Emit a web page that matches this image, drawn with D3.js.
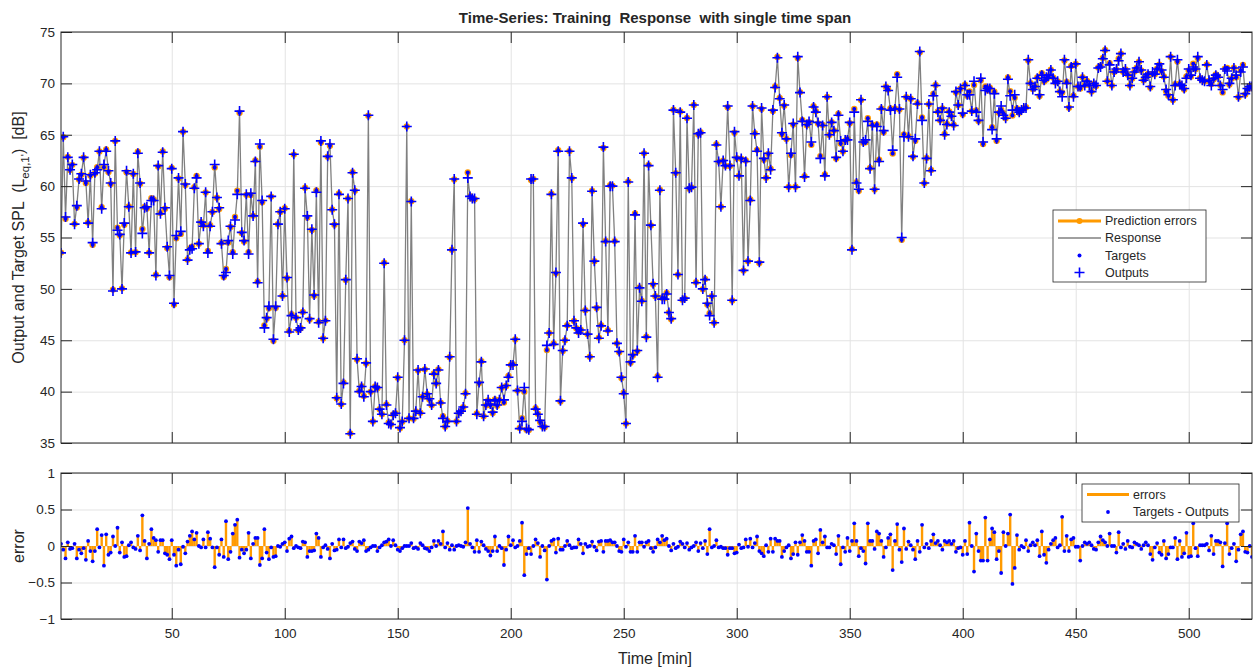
<!DOCTYPE html>
<html><head><meta charset="utf-8">
<script src="https://cdn.jsdelivr.net/npm/d3@7"></script>
<style>
body{margin:0;background:#fff}
text{font-family:"Liberation Sans",Arial,Helvetica,sans-serif;fill:#262626}
</style>
</head><body>
<svg id="c" width="1260" height="668"></svg>
<script>
// ---------- data ----------
const xTicks = [50,100,150,200,250,300,350,400,450,500];
const yTicksTop = [35,40,45,50,55,60,65,70,75];
const yTicksBottom = [-1,-0.5,0,0.5,1];
const xDomain = [1,528];

// network outputs (dB), minute 1..528
const outputs = [
53.5,64.8,57.0,62.8,61.6,62.1,56.3,58.1,60.7,61.2,
62.8,60.5,56.4,61.1,54.5,61.3,61.6,63.4,57.8,62.1,
63.4,61.5,60.3,49.8,64.4,55.7,55.3,50.0,56.4,61.5,
58.0,53.5,61.2,53.6,63.2,60.3,55.4,57.9,58.0,53.5,
58.6,58.6,51.3,62.0,57.3,63.3,57.9,54.1,51.3,61.7,
48.6,55.2,60.8,55.6,65.3,60.2,52.8,53.8,53.9,59.8,
60.8,54.4,56.5,56.1,59.4,53.5,56.1,57.5,62.1,58.9,
57.9,54.4,51.3,51.6,54.7,56.1,53.4,56.7,59.2,67.3,
55.5,54.7,59.2,53.4,59.3,57.1,62.4,50.6,64.1,58.6,
46.2,47.2,48.3,59.0,45.1,48.3,56.3,57.5,49.3,57.8,
51.1,45.8,47.4,63.1,47.2,46.0,
46.2,47.7,59.8,57.1,47.1,55.8,49.4,59.4,46.7,64.4,45.2,46.9,62.9,64.1,57.7,56.3,39.4,59.2,38.8,40.8,50.9,58.8,35.9,61.3,59.6,43.2,
40.0,40.5,39.5,42.8,66.9,40.0,37.1,40.5,40.4,38.3,
37.8,52.5,38.7,36.9,36.8,37.7,37.9,41.4,36.5,37.1,
45.0,65.8,37.4,58.5,37.4,38.1,42.1,37.9,39.5,42.2,
39.8,39.3,38.7,41.7,40.8,42.1,38.9,37.4,36.6,37.1,
43.4,53.8,60.7,37.1,37.9,38.1,38.5,39.8,60.8,59.0,
58.8,58.8,37.8,40.9,42.9,37.6,38.7,39.2,38.8,38.0,
39.1,38.7,39.2,40.4,39.2,40.6,41.4,42.6,
42.6,45.1,40.1,36.4,37.1,40.4,36.4,36.3,60.7,60.7,
38.3,37.8,37.2,36.6,36.6,44.5,45.7,59.2,44.6,51.6,
63.4,39.1,44.0,45.0,46.4,63.4,60.8,46.9,46.2,45.7,
46.0,56.4,47.9,45.6,43.4,59.5,52.7,48.2,45.2,46.4,
63.8,54.6,45.9,60.0,60.0,54.6,44.7,43.9,41.4,39.8,
36.9,60.4,42.9,43.6,57.2,44.0,50.1,48.8,63.2,45.3,
62.0,56.2,50.5,49.3,41.4,59.6,
49.0,49.0,49.5,47.7,47.1,67.4,61.3,51.4,67.2,48.9,
49.1,66.6,59.8,59.9,67.9,50.6,65.1,65.2,50.0,50.9,
48.6,47.4,49.3,46.7,64.0,62.4,58.0,62.5,62.0,67.8,
62.0,48.9,65.3,62.8,61.0,62.7,51.8,62.4,52.7,58.6,
67.8,65.1,63.4,52.6,67.6,62.7,60.8,63.2,61.6,67.4,
69.6,72.5,68.5,65.2,67.9,64.6,59.9,63.2,66.1,59.9,
72.6,69.1,66.3,60.9,66.0,66.3,64.3,
67.7,67.2,66.2,62.7,65.9,61.0,68.7,65.0,66.2,65.4,
62.8,66.9,64.4,63.4,64.5,64.5,66.2,53.8,67.2,60.3,
59.7,68.4,64.3,64.5,66.3,61.7,65.9,59.7,65.8,62.4,
67.5,65.4,69.7,69.3,67.4,63.5,67.5,70.6,67.5,55.0,
64.8,68.7,64.8,68.5,62.9,64.6,68.0,73.1,66.4,60.3,
62.7,68.0,61.5,68.8,69.8,67.2,66.4,67.6,65.0,66.0,
67.2,66.8,65.9,69.2,67.9,69.5,
67.1,69.8,68.9,68.9,67.3,70.2,67.2,66.4,70.5,64.3,
69.3,69.5,69.5,65.5,69.0,64.6,67.2,67.8,66.9,66.6,
70.4,68.8,67.4,68.9,67.4,67.2,67.4,67.6,67.6,72.3,
70.0,69.4,69.7,70.5,68.9,70.8,70.3,70.6,70.8,71.3,
70.5,70.0,70.2,69.2,68.7,72.3,70.0,67.7,71.6,68.7,
71.9,69.7,69.7,70.6,69.8,70.2,69.8,69.2,70.0,69.8,
71.5,71.6,72.4,73.2,70.2,71.8,
69.8,71.1,71.4,72.2,72.9,71.1,71.4,70.8,69.8,70.5,
71.1,71.5,72.1,71.3,70.3,70.6,70.9,69.7,71.1,70.9,
71.4,71.9,71.3,70.6,69.4,68.9,72.6,68.4,69.8,72.3,
69.9,69.8,69.5,70.5,71.4,70.8,71.6,71.4,72.6,70.5,
70.3,70.2,71.8,70.3,69.8,70.5,70.8,70.6,69.8,69.4,
71.4,71.2,70.0,70.5,71.5,70.8,68.7,71.1,71.6,69.0,
69.5,69.7,69.7
];

// errors = targets - outputs, minute 1..528
const errors = [
0.03,-0.05,-0.17,0.05,-0.04,-0.03,0.03,-0.17,-0.05,-0.10,
-0.03,-0.19,0.07,-0.07,-0.21,-0.07,0.23,-0.02,0.15,-0.27,
0.16,-0.12,-0.09,0.13,0.0,0.25,-0.09,0.05,-0.15,-0.14,
0.01,0.05,-0.02,-0.04,0.14,-0.06,0.42,0.07,-0.17,0.03,
0.23,0.11,0.08,-0.08,0.08,0.08,-0.10,-0.12,-0.18,0.08,
-0.12,-0.27,-0.05,-0.25,-0.01,-0.10,0.06,0.14,0.20,0.09,
0.18,0.0,-0.02,0.09,-0.02,0.19,0.10,-0.02,-0.29,-0.02,
-0.12,0.09,-0.15,0.34,-0.18,-0.08,0.17,0.29,0.36,-0.16,
-0.05,-0.10,-0.05,0.18,-0.17,0.03,0.11,0.11,-0.26,-0.17,
0.23,-0.09,-0.18,-0.02,-0.15,-0.14,0.0,-0.01,0.03,0.05,
-0.07,0.10,0.13,-0.03,0.0,-0.02,-0.03,0.06,0.05,-0.15,
-0.07,-0.07,-0.06,0.17,0.11,-0.15,-0.02,0.01,-0.04,-0.17,
0.03,-0.06,-0.05,0.09,-0.02,0.09,-0.03,-0.01,0.04,0.06,
-0.04,-0.07,0.06,0.04,0.08,-0.07,-0.05,-0.02,0.0,0.0,
-0.07,-0.02,0.01,0.05,0.06,0.09,0.0,0.08,0.01,-0.05,
-0.07,-0.03,0.0,0.0,0.0,0.04,-0.03,-0.02,-0.04,0.04,
0.01,-0.03,-0.04,-0.07,-0.02,0.07,0.0,0.07,0.03,0.20,
-0.02,0.04,-0.05,0.01,-0.05,
0.0,0.01,0.0,-0.01,0.05,0.52,0.03,-0.02,-0.08,0.08,
-0.08,0.06,0.01,-0.04,-0.07,-0.13,-0.07,0.13,-0.07,0.0,
-0.03,-0.26,-0.05,0.13,0.01,0.08,-0.02,0.0,0.07,0.32,
-0.40,-0.11,-0.03,-0.11,0.0,0.09,0.04,-0.15,0.0,-0.06,
-0.46,0.0,0.07,0.09,-0.09,0.10,-0.05,-0.05,0.0,0.07,
0.01,-0.03,-0.02,-0.02,0.09,0.03,-0.10,0.03,-0.01,0.0,
0.06,-0.01,-0.06,0.06,0.07,-0.08,0.07,0.07,0.08,0.05,
0.05,0.0,-0.07,-0.08,0.09,-0.01,0.05,-0.08,-0.08,0.14,
-0.08,0.05,0.05,-0.01,0.05,0.07,-0.03,-0.08,-0.02,0.09,
0.05,0.14,0.08,0.10,0.0,-0.06,0.03,-0.03,-0.01,0.06,
0.03,-0.02,0.04,-0.05,-0.02,0.0,0.05,-0.07,0.04,-0.03,
0.07,-0.11,0.23,-0.02,0.0,0.08,-0.02,-0.01,-0.03,-0.03,
-0.12,-0.03,-0.03,-0.10,-0.09,0.02,-0.03,-0.02,0.09,-0.01,
0.10,-0.02,0.04,0.13,-0.07,-0.10,-0.14,0.01,-0.08,0.10,
-0.08,0.10,0.07,0.07,-0.15,-0.07,-0.02,0.01,-0.17,-0.11,
0.05,-0.12,0.05,0.15,0.07,-0.08,-0.08,-0.27,0.07,0.09,
-0.10,0.22,0.05,0.13,-0.02,-0.02,0.03,0.01,-0.11,0.14,
-0.25,-0.02,-0.08,0.11,-0.07,
0.07,0.31,0.07,-0.14,-0.03,-0.07,-0.24,0.31,0.07,0.07,
-0.04,0.20,0.17,0.07,-0.15,-0.02,0.11,0.16,-0.33,0.07,
0.30,-0.05,-0.22,0.24,-0.04,0.06,0.01,-0.05,-0.18,0.07,
-0.08,0.29,-0.02,0.03,-0.03,0.07,0.16,0.04,0.07,0.01,
-0.05,0.07,0.05,0.07,0.03,0.07,-0.08,-0.03,-0.02,-0.12,
0.07,-0.11,0.32,0.0,-0.35,0.17,-0.07,-0.20,-0.20,0.39,
-0.20,0.09,0.24,0.19,-0.18,-0.07,-0.37,0.19,0.0,0.17,
0.43,-0.52,-0.30,0.15,-0.05,0.0,-0.02,0.08,-0.07,0.01,
0.05,0.01,0.08,-0.14,0.20,-0.12,-0.23,-0.05,0.03,0.08,
0.11,-0.02,0.01,0.40,-0.07,0.14,-0.07,0.09,0.11,-0.01,
-0.01,-0.20,0.0,0.05,0.03,0.05,0.01,-0.04,-0.05,0.05,
0.13,0.08,0.05,0.0,0.17,0.0,0.0,-0.09,0.19,-0.02,
0.03,-0.04,0.07,-0.01,-0.02,0.05,0.03,0.01,-0.04,0.01,
0.05,0.01,-0.11,-0.19,-0.02,0.04,-0.09,-0.12,0.07,-0.17,
-0.11,-0.02,-0.02,0.11,-0.18,0.07,-0.15,-0.10,0.18,-0.15,
-0.14,0.31,-0.03,-0.14,0.01,0.01,0.01,0.03,-0.06,0.14,
-0.11,0.07,0.07,0.05,-0.28,0.04,0.31,-0.11,-0.03,0.03,
-0.21,-0.05,0.16,0.20,-0.08,-0.09,0.0,-0.15
];

const n = Math.min(outputs.length, errors.length);
const pts = d3.range(n).map(i => ({t: i+1, out: outputs[i], err: errors[i], tgt: outputs[i] + errors[i]}));

// ---------- layout ----------
const L = 61, R = 1252;
const T1 = 32, B1 = 443, T2 = 473, B2 = 619;
const ORANGE = "#ff9a00", BLUE = "#0000ff", GRAY = "#808080", AX = "#262626";

const svg = d3.select("#c");
const x = d3.scaleLinear().domain(xDomain).range([L, R]);
const yT = d3.scaleLinear().domain([35,75]).range([B1, T1]);
const yB = d3.scaleLinear().domain([-1,1]).range([B2, T2]);

function frame(yScale, top, bottom, yTicks) {
  svg.append("g").attr("transform", `translate(0,${bottom})`)
    .call(d3.axisBottom(x).tickValues(xTicks).tickSize(-(bottom-top)).tickFormat(""))
    .call(g => { g.select(".domain").remove(); g.selectAll("line").attr("stroke", "#e3e3e3"); });
  svg.append("g").attr("transform", `translate(${L},0)`)
    .call(d3.axisLeft(yScale).tickValues(yTicks).tickSize(-(R-L)).tickFormat(""))
    .call(g => { g.select(".domain").remove(); g.selectAll("line").attr("stroke", "#e3e3e3"); });
}

function ticks(yScale, top, bottom, yTicks, yFmt, xLabels) {
  const style = g => { g.select(".domain").remove(); g.selectAll("line").attr("stroke", AX);
    g.selectAll("text").attr("fill", AX).style("font-size", "13.5px").style("font-family", '"Liberation Sans",Arial,sans-serif'); };
  svg.append("g").attr("transform", `translate(0,${bottom})`)
    .call(d3.axisBottom(x).tickValues(xTicks).tickSizeInner(-11).tickSizeOuter(0).tickPadding(9)
      .tickFormat(xLabels ? d3.format("d") : ""))
    .call(style);
  svg.append("g").attr("transform", `translate(0,${top})`)
    .call(d3.axisTop(x).tickValues(xTicks).tickSizeInner(-11).tickSizeOuter(0).tickFormat(""))
    .call(style);
  svg.append("g").attr("transform", `translate(${L},0)`)
    .call(d3.axisLeft(yScale).tickValues(yTicks).tickSizeInner(-11).tickSizeOuter(0).tickPadding(6).tickFormat(yFmt))
    .call(style);
  svg.append("g").attr("transform", `translate(${R},0)`)
    .call(d3.axisRight(yScale).tickValues(yTicks).tickSizeInner(-11).tickSizeOuter(0).tickFormat(""))
    .call(style);
  svg.append("rect").attr("x", L).attr("y", top).attr("width", R-L).attr("height", bottom-top)
    .attr("fill", "none").attr("stroke", AX).attr("stroke-width", 1);
}

// ---------- top panel ----------
frame(yT, T1, B1, yTicksTop);
svg.append("defs").html(
  `<clipPath id="cp1"><rect x="${L}" y="${T1}" width="${R-L}" height="${B1-T1}"/></clipPath>
   <clipPath id="cp2"><rect x="${L}" y="${T2}" width="${R-L}" height="${B2-T2}"/></clipPath>`);
const g1 = svg.append("g").attr("clip-path", "url(#cp1)");
g1.selectAll("line.pe").data(pts).join("line")
  .attr("x1", d => x(d.t)).attr("x2", d => x(d.t))
  .attr("y1", d => yT(d.out)).attr("y2", d => yT(d.tgt))
  .attr("stroke", ORANGE).attr("stroke-width", 2.5);
g1.selectAll("circle.pe").data(pts).join("circle")
  .attr("cx", d => x(d.t)).attr("cy", d => yT(d.tgt)).attr("r", 3.2).attr("fill", ORANGE);
g1.append("path").datum(pts)
  .attr("d", d3.line().x(d => x(d.t)).y(d => yT(d.out)))
  .attr("fill", "none").attr("stroke", GRAY).attr("stroke-width", 1.3);
g1.selectAll("circle.tg").data(pts).join("circle")
  .attr("cx", d => x(d.t)).attr("cy", d => yT(d.tgt)).attr("r", 2).attr("fill", BLUE);
const plus = "M-5,0H5M0,-5V5";
g1.selectAll("path.op").data(pts).join("path")
  .attr("transform", d => `translate(${x(d.t)},${yT(d.out)})`)
  .attr("d", plus).attr("stroke", BLUE).attr("stroke-width", 1.6).attr("fill", "none");
ticks(yT, T1, B1, yTicksTop, d3.format("d"), false);

// ---------- bottom panel ----------
frame(yB, T2, B2, yTicksBottom);
const g2 = svg.append("g").attr("clip-path", "url(#cp2)");
g2.selectAll("line.st").data(pts).join("line")
  .attr("x1", d => x(d.t)).attr("x2", d => x(d.t))
  .attr("y1", yB(0)).attr("y2", d => yB(d.err))
  .attr("stroke", ORANGE).attr("stroke-width", 2.4);
g2.selectAll("circle.dt").data(pts).join("circle")
  .attr("cx", d => x(d.t)).attr("cy", d => yB(d.err)).attr("r", 1.9).attr("fill", BLUE);
ticks(yB, T2, B2, yTicksBottom, d => d3.format("")(d), true);

// ---------- texts ----------
svg.append("text").attr("x", 655).attr("y", 23).attr("text-anchor", "middle")
  .style("font-size", "15px").style("font-weight", "bold").style("white-space", "pre").attr("fill", "#000")
  .text("Time-Series: Training  Response  with single time span");
svg.append("text").attr("x", 655).attr("y", 664).attr("text-anchor", "middle")
  .style("font-size", "16px").text("Time [min]");
const yl = svg.append("text").attr("transform", `translate(24,${(T1+B1)/2}) rotate(-90)`)
  .attr("text-anchor", "middle").style("font-size", "16px").style("white-space", "pre");
yl.append("tspan").text("Output and Target SPL  (L");
yl.append("tspan").attr("dy", 5).style("font-size", "11.5px").text("eq,1'");
yl.append("tspan").attr("dy", -5).text(")  [dB]");
svg.append("text").attr("transform", `translate(24,${(T2+B2)/2}) rotate(-90)`)
  .attr("text-anchor", "middle").style("font-size", "16px").text("error");

// ---------- legends ----------
const lg1 = svg.append("g");
lg1.append("rect").attr("x", 1053).attr("y", 210).attr("width", 153).attr("height", 72)
  .attr("fill", "#fff").attr("stroke", AX).attr("stroke-width", 0.8);
const items1 = [
  {label: "Prediction errors", y: 221},
  {label: "Response", y: 238},
  {label: "Targets", y: 255.5},
  {label: "Outputs", y: 272.5}
];
lg1.append("line").attr("x1", 1058).attr("x2", 1101).attr("y1", 221).attr("y2", 221).attr("stroke", ORANGE).attr("stroke-width", 3);
lg1.append("circle").attr("cx", 1079.5).attr("cy", 221).attr("r", 3).attr("fill", ORANGE);
lg1.append("line").attr("x1", 1058).attr("x2", 1101).attr("y1", 238).attr("y2", 238).attr("stroke", GRAY).attr("stroke-width", 1.3);
lg1.append("circle").attr("cx", 1079.5).attr("cy", 255.5).attr("r", 2).attr("fill", BLUE);
lg1.append("path").attr("transform", "translate(1079.5,272.5)").attr("d", plus).attr("stroke", BLUE).attr("stroke-width", 1.6);
lg1.selectAll("text").data(items1).join("text").attr("x", 1105).attr("y", d => d.y).attr("dy", "0.35em")
  .style("font-size", "12.5px").attr("fill", "#000").text(d => d.label);

const lg2 = svg.append("g");
lg2.append("rect").attr("x", 1082).attr("y", 484).attr("width", 157).attr("height", 38)
  .attr("fill", "#fff").attr("stroke", AX).attr("stroke-width", 0.8);
lg2.append("line").attr("x1", 1087).attr("x2", 1129).attr("y1", 494.5).attr("y2", 494.5).attr("stroke", ORANGE).attr("stroke-width", 3);
lg2.append("circle").attr("cx", 1108).attr("cy", 512).attr("r", 1.9).attr("fill", BLUE);
lg2.selectAll("text").data([{label: "errors", y: 494.5}, {label: "Targets - Outputs", y: 512}]).join("text")
  .attr("x", 1133).attr("y", d => d.y).attr("dy", "0.35em").style("font-size", "12.5px").attr("fill", "#000").text(d => d.label);
</script>
</body></html>
